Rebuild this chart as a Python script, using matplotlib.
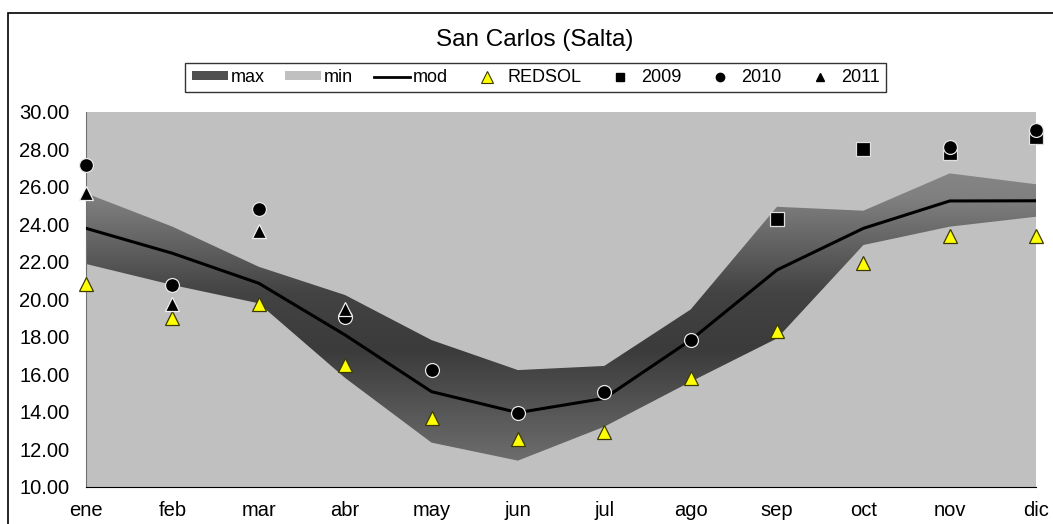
"""
San Carlos (Salta) - monthly irradiation: model band, REDSOL and measurements
"""

import numpy as np
import matplotlib.pyplot as plt
from matplotlib.colors import LinearSegmentedColormap
from matplotlib.lines import Line2D
from matplotlib.patches import Patch, Rectangle

plt.rcParams['font.family'] = ['Liberation Sans', 'DejaVu Sans']

# %%
# data

months = ['ene', 'feb', 'mar', 'abr', 'may', 'jun',
          'jul', 'ago', 'sep', 'oct', 'nov', 'dic']
band_max = [25.65, 23.87, 21.73, 20.22, 17.82, 16.22,
            16.44, 19.45, 24.93, 24.72, 26.71, 26.13]
band_min = [21.88, 20.76, 19.78, 15.80, 12.35, 11.39,
            13.20, 15.60, 17.91, 22.89, 23.87, 24.40]
mod = [23.78, 22.45, 20.85, 18.09, 15.07, 13.95,
       14.71, 17.82, 21.56, 23.78, 25.24, 25.25]
redsol = [20.79, 18.98, 19.73, 16.49, 13.65, 12.54,
          12.93, 15.78, 18.32, 21.91, 23.37, 23.37]
y2009 = [np.nan, np.nan, np.nan, np.nan, np.nan, np.nan,
         np.nan, np.nan, 24.26, 28.01, 27.78, 28.67]
y2010 = [27.16, 20.76, 24.81, 19.07, 16.22, 13.95,
         15.07, 17.82, np.nan, np.nan, 28.13, 29.02]
y2011 = [25.68, 19.74, 23.65, 19.48, np.nan, np.nan,
         np.nan, np.nan, np.nan, np.nan, np.nan, np.nan]

# %%

x = np.arange(len(months))

fig = plt.figure(figsize=(10.53, 5.24), dpi=100)
ax = fig.add_axes([0.0817, 0.0712, 0.9023, 0.7156])

# outer chart border (only top/left visible in the crop)
fig.patches.append(Rectangle((8 / 1053, -0.05), 1.1, 1 - 13 / 524 + 0.05,
                             transform=fig.transFigure, fill=False,
                             edgecolor='black', linewidth=1.2))

ax.set_facecolor('#c0c0c0')
ax.set_xlim(0, 11)
ax.set_ylim(10, 30)

# dark band with vertical gradient, clipped to the max/min polygon
band = ax.fill_between(x, band_min, band_max, facecolor='none',
                       edgecolor='none')
grad_cmap = LinearSegmentedColormap.from_list(
    'band', [(0.0, '#707070'), (0.37, '#3b3b3b'), (0.55, '#434343'),
             (0.85, '#808080'), (1.0, '#8a8a8a')])
yy = np.linspace(0, 1, 256).reshape(-1, 1)
img = ax.imshow(yy, cmap=grad_cmap, aspect='auto', origin='lower',
                extent=(0, 11, 11, 28), zorder=1)
img.set_clip_path(band.get_paths()[0], transform=ax.transData)

ax.plot(x, mod, color='black', linewidth=2.2, zorder=3)

marker_kw = dict(linestyle='none', markersize=10, markeredgewidth=0.9,
                 clip_on=False)
ax.plot(x, redsol, marker='^', markerfacecolor='#ffff00',
        markeredgecolor='#3a3a00', zorder=4, **marker_kw)
ax.plot(x, y2009, marker='s', markerfacecolor='black',
        markeredgecolor='#e0e0e0', zorder=5, **marker_kw)
ax.plot(x, y2010, marker='o', markerfacecolor='black',
        markeredgecolor='#e8e8e8', zorder=6, **marker_kw)
ax.plot(x, y2011, marker='^', markerfacecolor='black',
        markeredgecolor='#f0f0f0', zorder=7, **marker_kw)

# axes styling
ax.spines[['top', 'right']].set_visible(False)
ax.spines['left'].set_color('#707070')
ax.spines['bottom'].set_color('black')
ax.set_xticks(x, labels=months)
ax.set_yticks(np.arange(10, 31, 2))
ax.set_yticklabels([f'{v:.2f}' for v in np.arange(10, 31, 2)])
ax.tick_params(axis='y', length=0, pad=12, labelsize=14.5)
ax.tick_params(axis='x', length=0, pad=10, labelsize=14.5)

fig.text(535 / 1053, 1 - 40 / 524, 'San Carlos (Salta)', fontsize=17.5,
         ha='center', va='center')

handles = [
    Patch(facecolor='#505050', edgecolor='none'),
    Patch(facecolor='#c0c0c0', edgecolor='none'),
    Line2D([], [], color='black', linewidth=2),
    Line2D([], [], linestyle='none', marker='^', markersize=8,
           markerfacecolor='#ffff00', markeredgecolor='#3a3a00',
           markeredgewidth=0.8),
    Line2D([], [], linestyle='none', marker='s', markersize=6,
           color='black'),
    Line2D([], [], linestyle='none', marker='o', markersize=6,
           color='black'),
    Line2D([], [], linestyle='none', marker='^', markersize=6,
           color='black'),
]
labels = ['max', 'min', 'mod', 'REDSOL', '2009', '2010', '2011']
leg = fig.legend(handles, labels, ncol=7, loc='center',
                 bbox_to_anchor=(535.5 / 1053, 1 - 77.5 / 524),
                 fontsize=13, frameon=True, fancybox=False,
                 handlelength=2.0, handleheight=0.35, handletextpad=0.15,
                 columnspacing=1.15, borderpad=0.35)
leg.get_frame().set_edgecolor('black')
leg.get_frame().set_linewidth(1.0)

fig.savefig('out.png', dpi=100)
